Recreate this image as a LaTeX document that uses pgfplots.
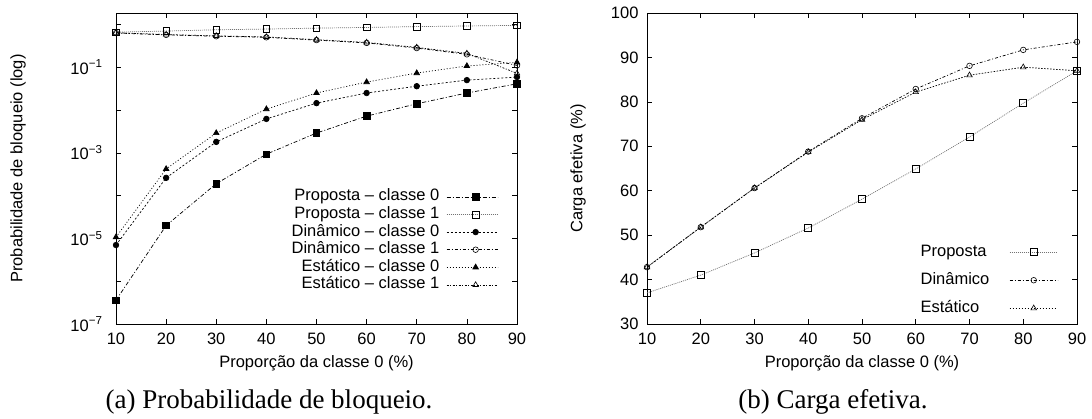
\documentclass[border=0pt]{standalone}
\usepackage{fontspec}
\setmainfont{Liberation Serif}
\newfontfamily\plotfont{Liberation Sans}
\usepackage{pgfplots}
\pgfplotsset{compat=1.18}

\newcommand\pf{\plotfont\fontsize{16.5}{19}\selectfont}

\pgfplotsset{
  gp/.style={
    scale only axis, height=311pt, clip=false,
    xmin=10, xmax=90, xtick={10,20,...,90},
    tick align=inside, major tick length=5pt, minor tick length=5pt,
    axis line style={line width=0.9pt},
    every tick/.style={black, line width=0.6pt},
    tick label style={font=\pf},
    /pgf/number format/assume math mode=true,
    xticklabel style={yshift=-5pt},
    xlabel style={font=\pf, at={(axis description cs:0.5,0)}, anchor=base, yshift=-43pt},
    ylabel style={font=\pf, rotate=0, anchor=center},
    legend style={draw=none, fill=none, font=\pf, inner sep=0pt, outer sep=0pt,
      nodes={inner sep=0pt, text height=12pt, text depth=4pt}},
    legend plot pos=right,
    every axis plot/.append style={line width=0.7pt},
  },
}

\begin{document}
\begin{tikzpicture}
\useasboundingbox (0,0) rectangle (1092pt,-419pt);

% (a) probabilidade de bloqueio
\begin{axis}[gp,
  at={(116pt,-324pt)}, anchor=south west, width=401pt,
  ymode=log, ymin=1e-7, ymax=1.85,
  ytick={1e-7,1e-5,1e-3,1e-1},
  yticklabels={10\textsuperscript{−7},10\textsuperscript{−5},10\textsuperscript{−3},10\textsuperscript{−1}},
  minor ytick={1e-6,1e-4,1e-2,1},
  yticklabel style={xshift=-10pt},
  xlabel={Proporção da classe 0 (\%)},
  ylabel={Probabilidade de bloqueio (log)},
  ylabel style={at={(axis description cs:-0.2444,0.5)}},
  legend cell align=right,
  legend style={at={(0.9526,0.100)}, anchor=south east, row sep=1.6pt, column sep=7pt},
  legend image code/.code={\draw[mark repeat=2,mark phase=2,#1] plot coordinates {(0pt,0pt) (29pt,0pt) (51pt,0pt)};},
]
\addplot[black, dash pattern=on 4pt off 2pt on 1pt off 2pt, mark=square*, mark size=3.3pt, mark options={solid, fill=black}]
  coordinates {(10,3.6e-7) (20,2.0e-5) (30,1.9e-4) (40,9.3e-4) (50,2.9e-3) (60,7.2e-3) (70,1.4e-2) (80,2.5e-2) (90,4.1e-2)};
\addlegendentry{Proposta – classe 0}
\addplot[black!55, dash pattern=on 1pt off 1pt, mark=square, mark size=3.3pt, mark options={solid, draw=black, line width=0.6pt}]
  coordinates {(10,0.66) (20,0.70) (30,0.75) (40,0.78) (50,0.82) (60,0.85) (70,0.89) (80,0.92) (90,0.95)};
\addlegendentry{Proposta – classe 1}
\addplot[black, dash pattern=on 2pt off 2pt, mark=*, mark size=2.8pt, mark options={solid, fill=black}]
  coordinates {(10,7e-6) (20,2.6e-4) (30,1.8e-3) (40,6.2e-3) (50,1.45e-2) (60,2.5e-2) (70,3.6e-2) (80,5.0e-2) (90,5.9e-2)};
\addlegendentry{Dinâmico – classe 0}
\addplot[black, dash pattern=on 3pt off 2pt on 1pt off 2pt, mark=o, mark size=2.8pt, mark options={solid, line width=0.6pt}]
  coordinates {(10,0.63) (20,0.57) (30,0.53) (40,0.50) (50,0.43) (60,0.37) (70,0.28) (80,0.20) (90,0.11)};
\addlegendentry{Dinâmico – classe 1}
\addplot[black, dash pattern=on 1pt off 2pt, mark=triangle*, mark size=3.2pt, mark options={solid, fill=black}]
  coordinates {(10,1.07e-5) (20,4.2e-4) (30,2.9e-3) (40,1.05e-2) (50,2.5e-2) (60,4.5e-2) (70,7.3e-2) (80,0.107) (90,0.13)};
\addlegendentry{Estático – classe 0}
\addplot[black, dash pattern=on 2pt off 1.5pt on 1pt off 1.5pt, mark=triangle, mark size=3.2pt, mark options={solid, line width=0.6pt}]
  coordinates {(10,0.64) (20,0.58) (30,0.54) (40,0.51) (50,0.44) (60,0.38) (70,0.29) (80,0.21) (90,0.072)};
\addlegendentry{Estático – classe 1}
\end{axis}

% (b) carga efetiva
\begin{axis}[gp,
  at={(647pt,-324pt)}, anchor=south west, width=430pt,
  ymin=30, ymax=100, ytick={30,40,...,100},
  yticklabel style={xshift=-5pt},
  xlabel={Proporção da classe 0 (\%)},
  ylabel={Carga efetiva (\%)},
  ylabel style={at={(axis description cs:-0.1605,0.5)}},
  legend cell align=left,
  legend style={at={(0.956,0.025)}, anchor=south east, row sep=12pt, column sep=20pt},
  legend image code/.code={\draw[mark repeat=2,mark phase=2,#1] plot coordinates {(0pt,0pt) (24pt,0pt) (48pt,0pt)};},
]
\addplot[black!55, dash pattern=on 1pt off 1pt, mark=square, mark size=3.5pt, mark options={solid, draw=black, line width=0.6pt}]
  coordinates {(10,37.0) (20,41.0) (30,46.0) (40,51.6) (50,58.1) (60,64.9) (70,72.1) (80,79.7) (90,87.0)};
\addlegendentry{Proposta}
\addplot[black, dash pattern=on 3pt off 2pt on 1pt off 2pt, mark=o, mark size=2.8pt, mark options={solid, line width=0.6pt}]
  coordinates {(10,42.8) (20,51.8) (30,60.6) (40,68.8) (50,76.3) (60,82.9) (70,88.1) (80,91.7) (90,93.5)};
\addlegendentry{Dinâmico}
\addplot[black, dash pattern=on 1.5pt off 1.5pt, mark=triangle, mark size=3.2pt, mark options={solid, line width=0.6pt}]
  coordinates {(10,42.8) (20,51.8) (30,60.6) (40,68.7) (50,76.0) (60,82.2) (70,86.0) (80,87.8) (90,87.0)};
\addlegendentry{Estático}
\end{axis}

\node[font=\fontsize{27}{32}\selectfont, anchor=base] at (269pt,-408pt) {(a)~Probabilidade de bloqueio.};
\node[font=\fontsize{27}{32}\selectfont, anchor=base] at (833pt,-408pt) {(b)~Carga efetiva.};
\end{tikzpicture}
\end{document}
